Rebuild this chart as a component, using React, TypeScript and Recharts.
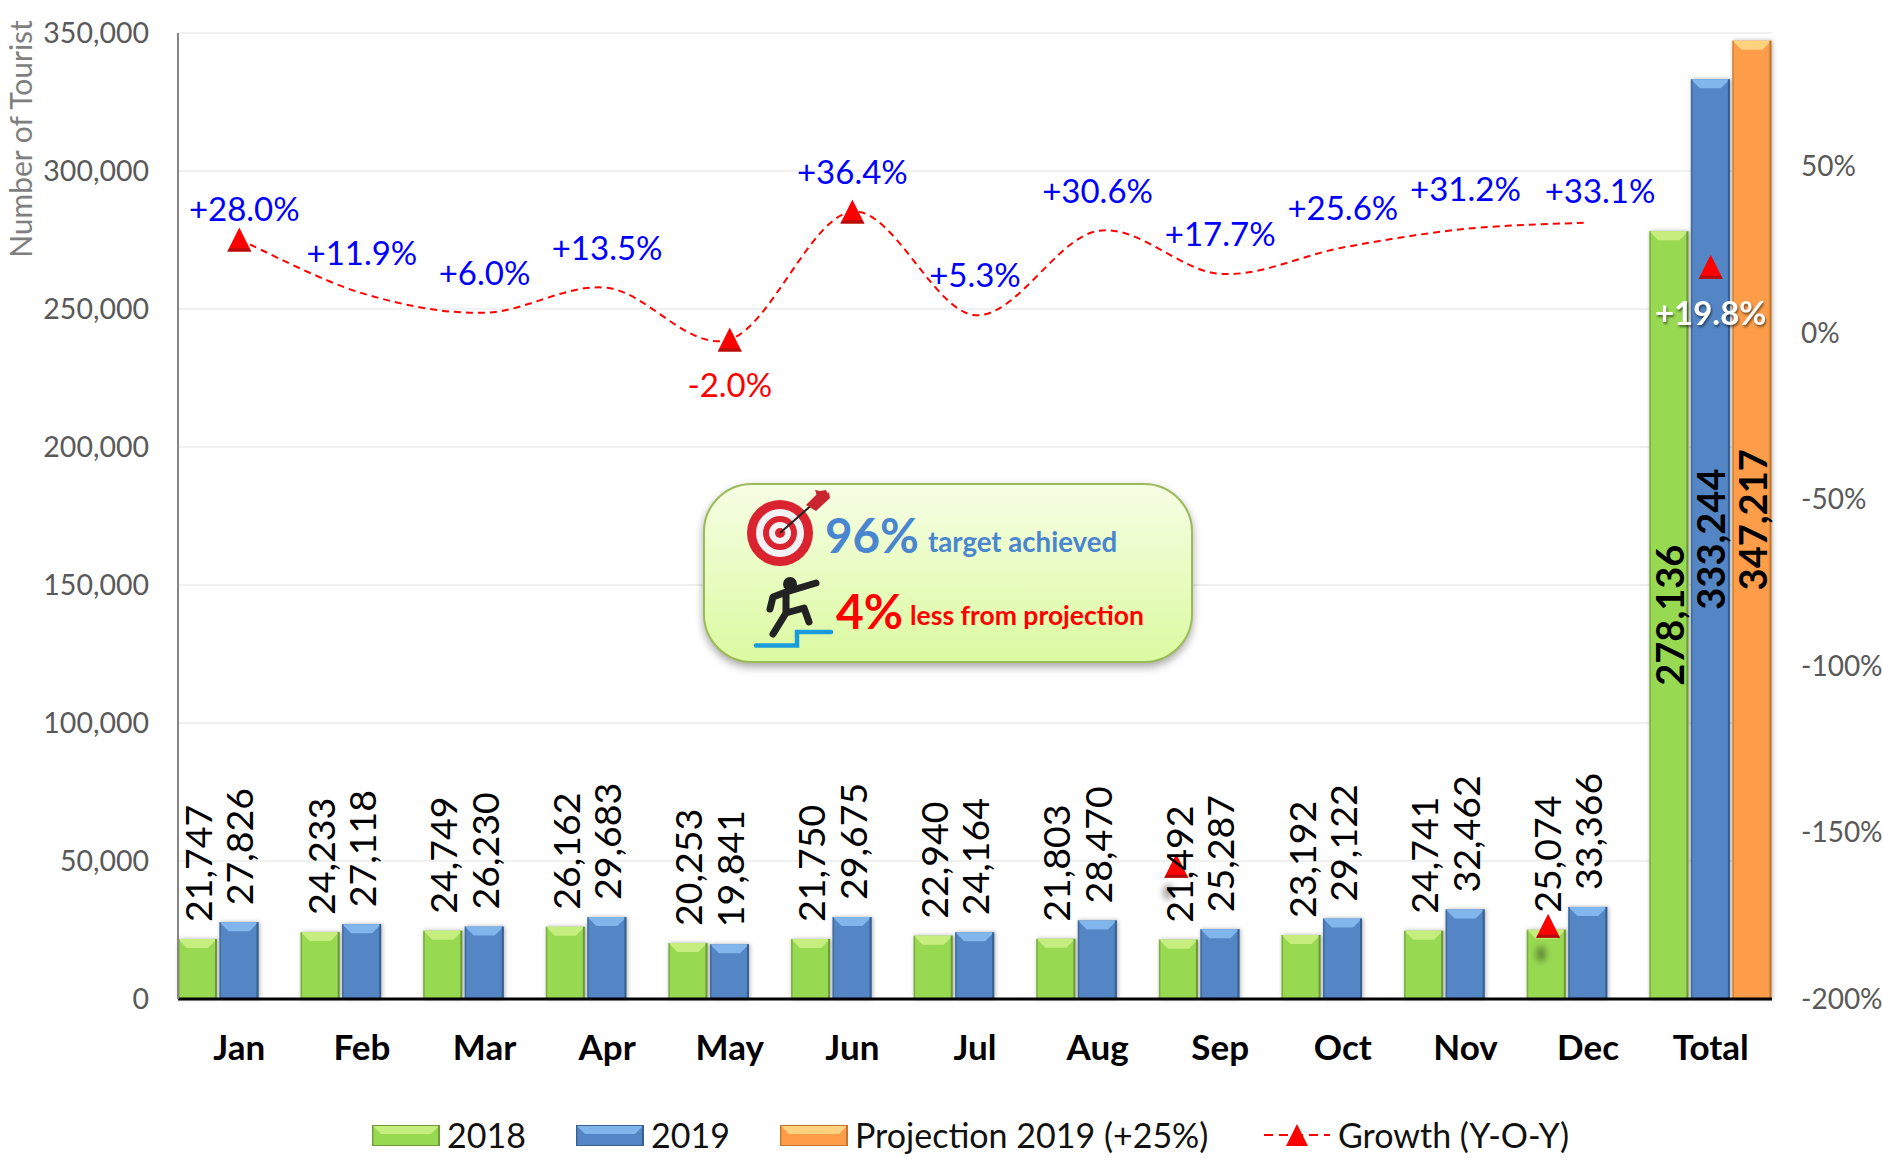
import React from "react";
import {
  ComposedChart,
  Bar,
  Line,
  XAxis,
  YAxis,
  CartesianGrid,
  LabelList,
  Legend,
} from "recharts";

const months = ["Jan", "Feb", "Mar", "Apr", "May", "Jun", "Jul", "Aug", "Sep", "Oct", "Nov", "Dec", "Total"];
const tourists2018 = [21747, 24233, 24749, 26162, 20253, 21750, 22940, 21803, 21492, 23192, 24741, 25074, 278136];
const tourists2019 = [27826, 27118, 26230, 29683, 19841, 29675, 24164, 28470, 25287, 29122, 32462, 33366, 333244];
const projection = [null, null, null, null, null, null, null, null, null, null, null, null, 347217];
const growth = [28.0, 11.9, 6.0, 13.5, -2.0, 36.4, 5.3, 30.6, 17.7, 25.6, 31.2, 33.1, 19.8];
// markers that survive in the picture, two of them were dragged off the line
const growthMarkers = [28.0, null, null, null, -2.0, 36.4, null, null, -160, null, null, -178, 19.8];

const leftTicks = [0, 50000, 100000, 150000, 200000, 250000, 300000, 350000];
const rightTicks = [-200, -150, -100, -50, 0, 50];

const data = months.map((month, i) => ({
  month,
  y2018: tourists2018[i],
  y2019: tourists2019[i],
  projection: projection[i],
  growthLabel: growth[i],
  growthLine: i < 12 ? growth[i] : null,
  marker: growthMarkers[i],
}));

const FONT = "Lato, Carlito, Calibri, sans-serif";

const GREEN = { base: "#98d952", top: "#c6ee7e", dark: "#6f9a3c" };
const BLUE = { base: "#5485c4", top: "#80b6ec", dark: "#37608f" };
const ORANGE = { base: "#fd9d4a", top: "#fdd27e", dark: "#c0762f" };

type Palette = typeof GREEN;

function bevel(p: Palette, x: number, y: number, w: number, h: number) {
  const t = Math.min(9, h / 2);
  const inset = Math.min(9, w / 3);
  return (
    <g>
      <rect x={x} y={y} width={w} height={h} fill={p.base} />
      <path d={`M${x},${y}H${x + w}L${x + w - inset},${y + t}H${x + inset}Z`} fill={p.top} />
      <rect x={x} y={y} width={1.5} height={h} fill={p.dark} opacity={0.7} />
      <rect x={x + w - 2} y={y} width={2} height={h} fill={p.dark} />
    </g>
  );
}

const barShape = (p: Palette) => (props: any) => {
  const { x, y, width, height } = props;
  if (!height || height <= 0) return <g />;
  return <g style={{ filter: "drop-shadow(1px 0 2px rgba(0,0,0,0.3))" }}>{bevel(p, x, y, width, height)}</g>;
};

const valueLabel = (props: any) => {
  const { x, y, width, height, value } = props;
  if (value == null) return null;
  const cx = x + width / 2;
  // the index is not reliable here, the projection series skips its empty months
  const total = value > 100000;
  const cy = total ? y + height / 2 : y - 17;
  return (
    <text
      x={cx}
      y={cy}
      transform={`rotate(-90 ${cx} ${cy})`}
      textAnchor={total ? "middle" : "start"}
      dominantBaseline="central"
      fontFamily={FONT}
      fontSize={total ? 38 : 37.5}
      fontWeight={total ? 700 : 400}
      fill="#000"
    >
      {value.toLocaleString("en-US")}
    </text>
  );
};

const growthLabel = (props: any) => {
  const { x, y, value, index } = props;
  if (value == null) return null;
  const text = (value > 0 ? "+" : "") + value.toFixed(1) + "%";
  const total = index === 12;
  let dy = -41;
  if (value < 0 || total) dy = 45;
  if (index === 11) dy = -33;
  if (index === 0) dy = -32;
  const dx = index === 11 ? 12 : index === 0 ? 5 : 0;
  return (
    <text
      x={x + dx}
      y={y + dy}
      textAnchor="middle"
      dominantBaseline="central"
      fontFamily={FONT}
      fontSize={33}
      fontWeight={total ? 700 : 400}
      fill={total ? "#fff" : value < 0 ? "#ff0000" : "#0000ff"}
      style={total ? { filter: "drop-shadow(1px 2px 1px rgba(0,0,0,0.5))" } : undefined}
    >
      {text}
    </text>
  );
};

const triangleDot = (props: any) => {
  const { cy, index } = props;
  if (props.cx == null || cy == null) return <g key={index} />;
  // Sep and Dec markers sit left of their category in the picture
  const cx = props.cx + (index === 8 ? -44 : index === 11 ? -40 : 0);
  return (
    <g key={index}>
      <path d={`M${cx},${cy - 12}L${cx + 12},${cy + 12}H${cx - 12}Z`} fill="#ff0000" />
      <path d={`M${cx - 10},${cy + 9}H${cx + 10}L${cx + 12},${cy + 12}H${cx - 12}Z`} fill="#b00d0d" />
    </g>
  );
};

// smoothing as office charts do it (catmull-rom)
function officeCurve(ctx: any) {
  let pts: number[][] = [];
  return {
    areaStart() {},
    areaEnd() {},
    lineStart() {
      pts = [];
    },
    lineEnd() {
      pts.forEach((p, i) => {
        if (i === 0) {
          ctx.moveTo(p[0], p[1]);
          return;
        }
        const a = pts[Math.max(i - 2, 0)];
        const b = pts[i - 1];
        const d = pts[Math.min(i + 1, pts.length - 1)];
        ctx.bezierCurveTo(
          b[0] + (p[0] - a[0]) / 6,
          b[1] + (p[1] - a[1]) / 6,
          p[0] - (d[0] - b[0]) / 6,
          p[1] - (d[1] - b[1]) / 6,
          p[0],
          p[1]
        );
      });
    },
    point(x: number, y: number) {
      pts.push([x, y]);
    },
  };
}

function Swatch({ p }: { p: Palette }) {
  return (
    <svg width={68} height={21} style={{ display: "block" }}>
      {bevel(p, 0, 0, 68, 21)}
      <rect x={0.5} y={0.5} width={67} height={20} fill="none" stroke={p.dark} />
    </svg>
  );
}

function LegendBox() {
  const textStyle = { fontFamily: FONT, fontSize: 34, color: "#111", lineHeight: "40px", whiteSpace: "nowrap" as const };
  return (
    <div style={{ position: "absolute", left: 372, top: 1115, height: 40, display: "flex", alignItems: "center" }}>
      <Swatch p={GREEN} />
      <span style={{ ...textStyle, marginLeft: 7, width: 129 }}>2018</span>
      <Swatch p={BLUE} />
      <span style={{ ...textStyle, marginLeft: 7, width: 129 }}>2019</span>
      <Swatch p={ORANGE} />
      <span style={{ ...textStyle, marginLeft: 7, width: 409 }}>Projection 2019 (+25%)</span>
      <svg width={66} height={24} style={{ display: "block" }}>
        <line x1={0} y1={12} x2={66} y2={12} stroke="#ff0000" strokeWidth={2} strokeDasharray="9 6" />
        <path d="M33,1L44,23H22Z" fill="#ff0000" />
      </svg>
      <span style={{ ...textStyle, marginLeft: 8 }}>Growth (Y-O-Y)</span>
    </div>
  );
}

function Callout() {
  return (
    <svg width={1883} height={1159} style={{ position: "absolute", left: 0, top: 0, pointerEvents: "none" }}>
      <defs>
        <linearGradient id="calloutFill" x1="0" y1="0" x2="0" y2="1">
          <stop offset="0" stopColor="#f6fee4" />
          <stop offset="1" stopColor="#dbfaa0" />
        </linearGradient>
      </defs>
      <rect
        x={704}
        y={484}
        width={488}
        height={178}
        rx={48}
        fill="url(#calloutFill)"
        stroke="#9bbb59"
        strokeWidth={2}
        style={{ filter: "drop-shadow(0 4px 4px rgba(0,0,0,0.35))" }}
      />
      <circle cx={780} cy={533} r={33} fill="#d9232f" />
      <circle cx={780} cy={533} r={24} fill="#f2f2f4" />
      <circle cx={780} cy={533} r={17} fill="#d9232f" />
      <circle cx={780} cy={533} r={11} fill="#f2f2f4" />
      <circle cx={780} cy={533} r={5} fill="#d9232f" />
      <line x1={780} y1={533} x2={823} y2={495} stroke="#222" strokeWidth={2} />
      <path d="M806,505L820,491L826,490L830,498L816,511Z" fill="#c9252f" />
      <path d="M820,491L815,490L817,496ZM830,498L824,497L829,492Z" fill="#c9252f" />
      <text x={825} y={553} fontFamily={FONT} fontWeight={700} fontSize={47.5} fill="#4a86d0">96%</text>
      <text x={928} y={552} fontFamily={FONT} fontWeight={700} fontSize={27.6} fill="#4a86d0">target achieved</text>

      <circle cx={790} cy={584} r={7} fill="#222" />
      <path d="M816,583L786,592L786,613M786,592L773,597L770,609M786,613L804,608L809,622M786,613L773,634" fill="none" stroke="#222" strokeWidth={7} strokeLinecap="round" strokeLinejoin="round" />
      <path d="M756,645.5H797V632H831" fill="none" stroke="#1a9cdc" strokeWidth={4.5} strokeLinecap="round" />
      <text x={836} y={629} fontFamily={FONT} fontWeight={700} fontSize={48} fill="#ff0000">4%</text>
      <text x={910} y={625} fontFamily={FONT} fontWeight={700} fontSize={26.5} fill="#ff0000">less from projection</text>
      {/* leftover shadows of the two dragged markers */}
      <ellipse cx={1168} cy={892} rx={5} ry={8} fill="#000" opacity={0.35} style={{ filter: "blur(3px)" }} />
      <ellipse cx={1541} cy={954} rx={5} ry={8} fill="#000" opacity={0.35} style={{ filter: "blur(3px)" }} />
    </svg>
  );
}

export default function App() {
  return (
    <div style={{ position: "absolute", left: 0, top: 0, width: 1883, height: 1159, background: "#fff" }}>
      <ComposedChart
        width={1883}
        height={1159}
        data={data}
        margin={{ top: 33, right: 0, bottom: 80, left: 0 }}
        barCategoryGap={0}
        barGap={2.5}
      >
        <CartesianGrid yAxisId="left" vertical={false} stroke="#f0f0f0" strokeWidth={2} />
        <XAxis
          dataKey="month"
          interval={0}
          height={80}
          tickLine={false}
          axisLine={{ stroke: "#000", strokeWidth: 3 }}
          tick={{ fontFamily: FONT, fontSize: 35, fontWeight: 700, fill: "#000" }}
          tickMargin={30}
        />
        <YAxis
          yAxisId="left"
          width={178}
          domain={[0, 350000]}
          ticks={leftTicks}
          interval={0}
          tickLine={false}
          axisLine={{ stroke: "#868686", strokeWidth: 2 }}
          tick={{ fontFamily: FONT, fontSize: 28.5, fill: "#595959" }}
          tickMargin={23}
          tickFormatter={(v: number) => v.toLocaleString("en-US")}
          label={{
            content: () => (
              <text x={20} y={139} transform="rotate(-90 20 139)" textAnchor="middle" dominantBaseline="central" fontFamily={FONT} fontSize={30} fill="#7f7f7f">
                Number of Tourist
              </text>
            ),
          }}
        />
        <YAxis
          yAxisId="right"
          orientation="right"
          width={111}
          domain={[-200, 90]}
          ticks={rightTicks}
          interval={0}
          tickLine={false}
          axisLine={false}
          tick={{ fontFamily: FONT, fontSize: 28, fill: "#595959" }}
          tickMargin={23}
          tickFormatter={(v: number) => `${v}%`}
        />
        <Legend content={() => null} height={0} />
        <Bar yAxisId="left" dataKey="y2018" name="2018" shape={barShape(GREEN)} isAnimationActive={false}>
          <LabelList dataKey="y2018" content={valueLabel} />
        </Bar>
        <Bar yAxisId="left" dataKey="y2019" name="2019" shape={barShape(BLUE)} isAnimationActive={false}>
          <LabelList dataKey="y2019" content={valueLabel} />
        </Bar>
        <Bar yAxisId="left" dataKey="projection" name="Projection 2019 (+25%)" shape={barShape(ORANGE)} isAnimationActive={false}>
          <LabelList dataKey="projection" content={valueLabel} />
        </Bar>
        <Line
          yAxisId="right"
          dataKey="growthLine"
          name="Growth (Y-O-Y)"
          type={officeCurve as any}
          stroke="#ff0000"
          strokeWidth={2}
          strokeDasharray="7 5"
          dot={false}
          activeDot={false}
          isAnimationActive={false}
        />
        <Line
          yAxisId="right"
          dataKey="marker"
          stroke="none"
          dot={triangleDot}
          activeDot={false}
          legendType="none"
          isAnimationActive={false}
        />
        <Line
          yAxisId="right"
          dataKey="growthLabel"
          stroke="none"
          dot={false}
          activeDot={false}
          legendType="none"
          isAnimationActive={false}
        >
          <LabelList dataKey="growthLabel" content={growthLabel} />
        </Line>
      </ComposedChart>
      <Callout />
      <LegendBox />
    </div>
  );
}
